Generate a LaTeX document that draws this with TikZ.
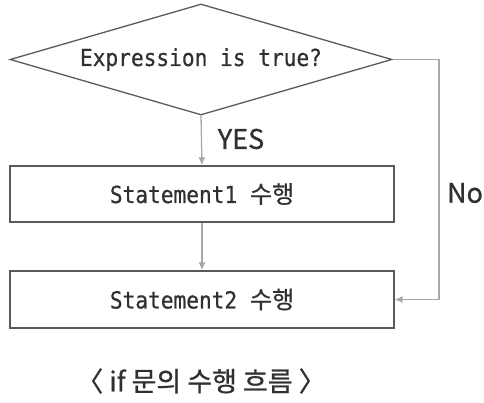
\documentclass[tikz,border=0pt]{standalone}
\usepackage{fontspec}
\setmainfont{Noto Sans CJK KR}
\setmonofont[FakeStretch=0.9,FakeBold=0.6]{DejaVu Sans Mono}
\newfontfamily\kr[FakeBold=0.8]{Noto Sans CJK KR}
\usetikzlibrary{shapes.geometric,arrows.meta}
\definecolor{borderc}{HTML}{5A5A5A}
\definecolor{linkc}{HTML}{A8A8A8}
\definecolor{txt}{HTML}{303030}
\begin{document}
\begin{tikzpicture}[x=1pt,y=-1pt,
  shapeline/.style={draw=borderc,line width=1.3pt},
  decision/.style={shapeline,diamond,inner sep=0pt,aspect=3.44,minimum width=382pt,minimum height=111pt,text=txt,font=\fontsize{23.5}{26}\selectfont\ttfamily},
  stmt/.style={shapeline,rectangle,inner sep=0pt,minimum width=384pt,text=txt,font=\fontsize{23.5}{26}\selectfont\ttfamily},
  link/.style={draw=linkc,line width=1.3pt,-{Latex[length=8pt,width=7pt]}},
  lbl/.style={text=txt,font=\fontsize{27}{30}\selectfont\kr,inner sep=0pt}]
\useasboundingbox (0,0) rectangle (484,403);
\node[decision] (d) at (201,59.5) {Expression is true?};
\node[stmt,minimum height=56pt] (s1) at (202,194) {Statement1 {\kr\fontsize{24}{26}\selectfont 수행}};
\node[stmt,minimum height=57pt] (s2) at (202,299.5) {Statement2 {\kr\fontsize{24}{26}\selectfont 수행}};
\coordinate (c) at (439,59.5);
\draw[link] (d.south) -- (s1.north);
\draw[link] (s1.south) -- (s2.north);
\draw[link] (d.east) -- (c) |- (s2.east);
\node[lbl] (yes) at (241,139) {YES};
\node[lbl] (no) at (465,193) {No};
\node[lbl] (cap) at (201,381) {〈 if 문의 수행 흐름 〉};
\end{tikzpicture}
\end{document}
